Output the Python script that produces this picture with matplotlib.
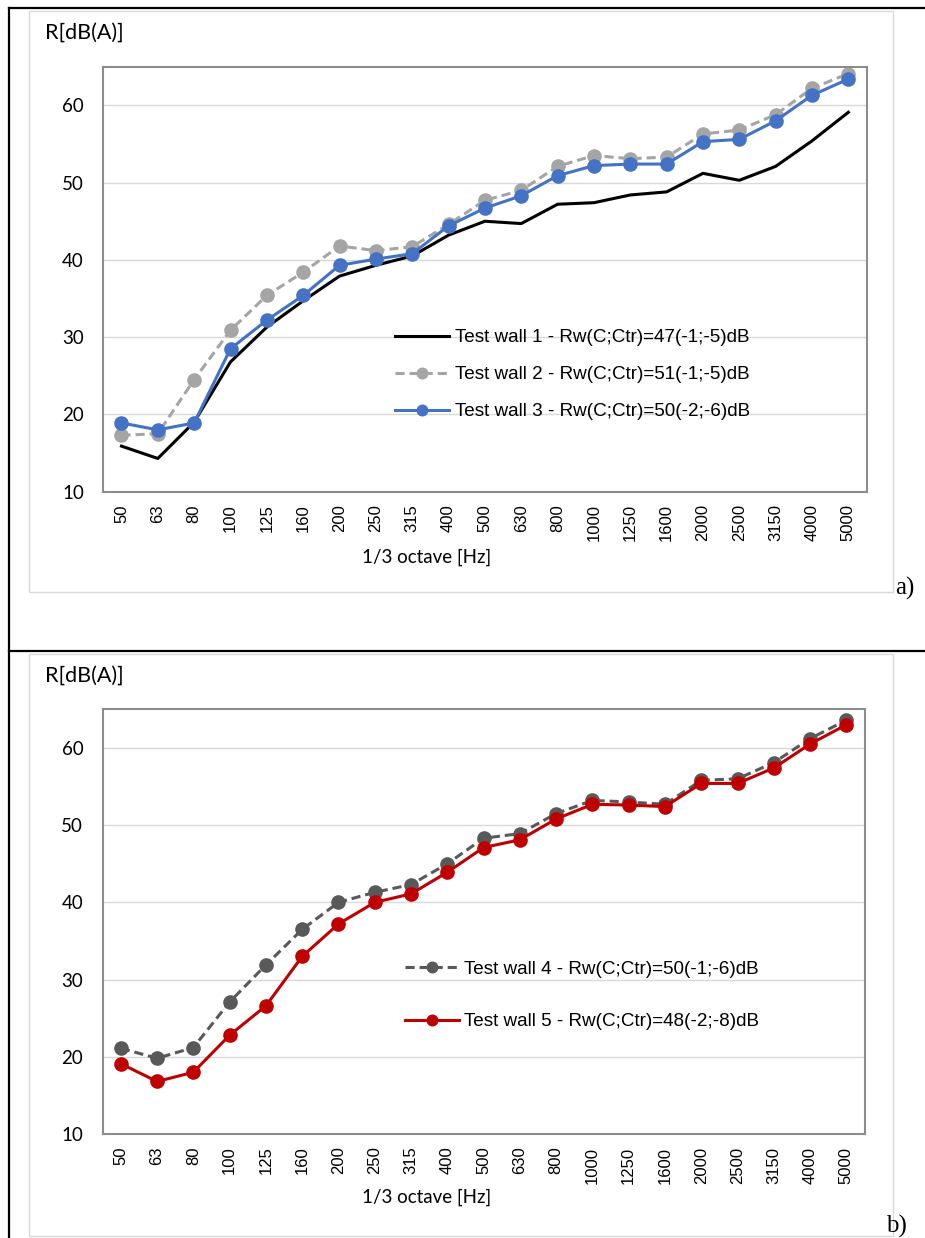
import numpy as np
import matplotlib
matplotlib.use('Agg')
import matplotlib.pyplot as plt
from matplotlib.lines import Line2D
from matplotlib.patches import Rectangle

# 1/3 octave bands
freqs = ['50', '63', '80', '100', '125', '160', '200', '250', '315', '400', '500',
         '630', '800', '1000', '1250', '1600', '2000', '2500', '3150', '4000', '5000']

wall1 = [15.9, 14.3, 19.0, 26.8, 31.3, 34.7, 37.9, 39.3, 40.5, 43.2, 45.0,
         44.7, 47.2, 47.4, 48.4, 48.8, 51.2, 50.3, 52.1, 55.4, 59.1]
wall2 = [17.3, 17.5, 24.5, 30.9, 35.4, 38.4, 41.8, 41.2, 41.7, 44.6, 47.7,
         49.0, 52.1, 53.5, 53.1, 53.3, 56.3, 56.8, 58.8, 62.2, 64.1]
wall3 = [18.9, 18.0, 18.9, 28.5, 32.2, 35.4, 39.3, 40.1, 40.8, 44.4, 46.7,
         48.3, 50.9, 52.2, 52.4, 52.4, 55.3, 55.6, 58.0, 61.3, 63.4]
wall4 = [21.1, 19.8, 21.2, 27.1, 31.9, 36.5, 40.0, 41.3, 42.3, 45.0, 48.3,
         48.9, 51.5, 53.2, 53.0, 52.7, 55.8, 56.0, 58.1, 61.2, 63.6]
wall5 = [19.1, 16.8, 18.0, 22.8, 26.6, 33.0, 37.2, 40.0, 41.1, 43.9, 47.1,
         48.1, 50.8, 52.7, 52.6, 52.4, 55.4, 55.4, 57.4, 60.5, 63.0]

labels_a = ['Test wall 1 - Rw(C;Ctr)=47(-1;-5)dB',
            'Test wall 2 - Rw(C;Ctr)=51(-1;-5)dB',
            'Test wall 3 - Rw(C;Ctr)=50(-2;-6)dB']
labels_b = ['Test wall 4 - Rw(C;Ctr)=50(-1;-6)dB',
            'Test wall 5 - Rw(C;Ctr)=48(-2;-8)dB']

W, H = 925, 1238
fig = plt.figure(figsize=(W / 100, H / 100), dpi=100)

def fx(px):
    return px / W

def fy(py):
    return 1 - py / H

# outer black frame lines
for xs, ys in [([9, 925], [8, 8]), ([9, 9], [8, H]), ([9, 925], [651, 651])]:
    fig.add_artist(Line2D([fx(x) for x in xs], [fy(y) for y in ys], color='black', lw=1.6))

# chart area borders
for top, bot in [(11, 592), (654, 1236)]:
    fig.add_artist(Rectangle((fx(29), fy(bot)), fx(893) - fx(29), fy(top) - fy(bot),
                             fill=False, edgecolor='#d9d9d9', lw=1.0))

x = np.arange(len(freqs))
lw = 2.2
ms = 9.5

def style_axes(ax):
    ax.set_xlim(-0.5, len(freqs) - 0.5)
    ax.set_ylim(10, 65)
    ax.set_yticks(range(10, 61, 10))
    ax.set_yticklabels([str(v) for v in range(10, 61, 10)], family='Lato', fontsize=13.5)
    ax.set_xticks(x)
    ax.set_xticklabels(freqs, rotation=90, family='Liberation Sans', fontsize=12)
    ax.tick_params(length=0, pad=9)
    ax.tick_params(axis='y', pad=14)
    ax.grid(axis='y', color='#d9d9d9', lw=1.0)
    ax.set_axisbelow(True)
    for s in ax.spines.values():
        s.set_color('#8c8c8c')
        s.set_linewidth(1.5)

# a)
ax1 = fig.add_axes([fx(103.3), fy(491.7), fx(866.5) - fx(103.3), fy(66.7) - fy(491.7)])
ax1.plot(x, wall1, color='black', lw=lw, label=labels_a[0])
ax1.plot(x, wall2, color='#a5a5a5', lw=lw, ls=(0, (3, 1.6)), marker='o', ms=ms, label=labels_a[1])
ax1.plot(x, wall3, color='#4472c4', lw=lw, marker='o', ms=ms, label=labels_a[2])
style_axes(ax1)
ax1.legend(loc='upper left', bbox_to_anchor=(0.37, 0.405), frameon=False, prop={'family': 'Liberation Sans', 'size': 13.6},
           handlelength=2.85, handletextpad=0.3, labelspacing=1.05, numpoints=1, borderpad=0, markerscale=0.8)

# b)
ax2 = fig.add_axes([fx(102.7), fy(1134), fx(864.5) - fx(102.7), fy(709.3) - fy(1134)])
ax2.plot(x, wall4, color='#595959', lw=lw, ls=(0, (3, 1.6)), marker='o', ms=ms, label=labels_b[0])
ax2.plot(x, wall5, color='#c00000', lw=lw, marker='o', ms=ms, label=labels_b[1])
style_axes(ax2)
ax2.legend(loc='upper left', bbox_to_anchor=(0.384, 0.43), frameon=False, prop={'family': 'Liberation Sans', 'size': 13.6},
           handlelength=2.85, handletextpad=0.3, labelspacing=1.85, numpoints=1, borderpad=0, markerscale=0.8)

# axis titles and panel labels
for ytop in [33, 676]:
    fig.text(fx(45), fy(ytop), 'R[dB(A)]', family='Lato', fontsize=15.5, va='center', ha='left')
for yl in [557, 1197]:
    fig.text(fx(427), fy(yl), '1/3 octave [Hz]', family='Lato', fontsize=13.5, va='center', ha='center')
fig.text(fx(895), fy(588), 'a)', family='Liberation Serif', fontsize=18, va='center', ha='left')
fig.text(fx(886), fy(1226), 'b)', family='Liberation Serif', fontsize=18, va='center', ha='left')

fig.savefig('out.png', dpi=100)
